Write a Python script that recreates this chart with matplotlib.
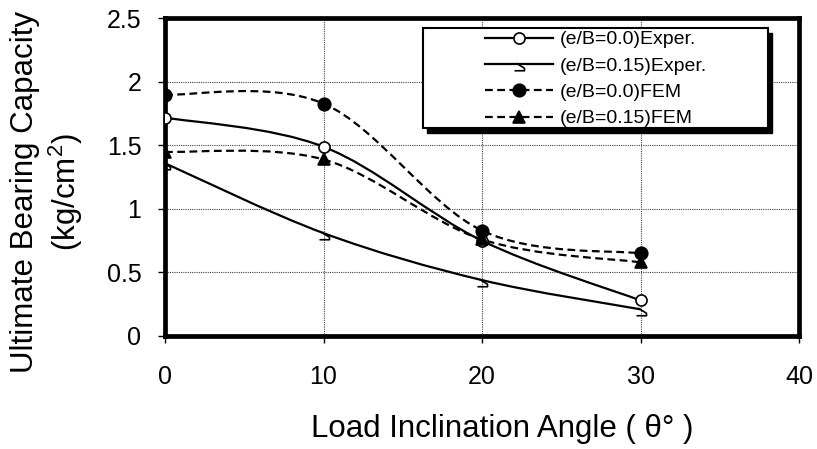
import matplotlib
matplotlib.use("Agg")
import matplotlib.pyplot as plt
import matplotlib.transforms as mtransforms
import numpy as np
from matplotlib.lines import Line2D
from matplotlib.patches import PathPatch, Rectangle
from matplotlib.path import Path

plt.rcParams["font.family"] = ["Liberation Sans", "DejaVu Sans"]
plt.rcParams["mathtext.fontset"] = "custom"
plt.rcParams["mathtext.rm"] = "Liberation Sans"
plt.rcParams["mathtext.default"] = "regular"

angles = [0, 10, 20, 30]
exp_e00 = [1.72, 1.49, 0.75, 0.28]
exp_e15 = [1.36, 0.81, 0.44, 0.21]
fem_e00 = [1.90, 1.83, 0.83, 0.65]
fem_e15 = [1.45, 1.39, 0.76, 0.58]
series_labels = ["(e/B=0.0)Exper.", "(e/B=0.15)Exper.", "(e/B=0.0)FEM", "(e/B=0.15)FEM"]

x_ticks = [0, 10, 20, 30, 40]
y_ticks = [0, 0.5, 1.0, 1.5, 2.0, 2.5]
y_tick_labels = ["0", "0.5", "1", "1.5", "2", "2.5"]

DASHED = (0, (3.5, 2))

# odd little marker used by Excel for the e/B=0.15 experiment series
hook_marker = Path([(-0.8, -1), (0.8, -1), (0.8, -0.6), (-0.5, 0.2)],
                   [Path.MOVETO, Path.LINETO, Path.LINETO, Path.LINETO])


def smooth_path(xs, ys):
    # Catmull-Rom style bezier, like Excel "smoothed line"
    pts = np.column_stack([xs, ys]).astype(float)
    padded = np.vstack([pts[0], pts, pts[-1]])
    verts = [pts[0]]
    codes = [Path.MOVETO]
    for i in range(len(pts) - 1):
        c1 = pts[i] + (padded[i + 2] - padded[i]) / 6
        c2 = pts[i + 1] - (padded[i + 3] - padded[i + 1]) / 6
        verts += [c1, c2, pts[i + 1]]
        codes += [Path.CURVE4] * 3
    return Path(verts, codes)


fig = plt.figure(figsize=(8.17, 4.49), dpi=100)
ax = fig.add_axes([0.202, 0.2517, 0.776, 0.7071])

styles = [
    dict(ys=exp_e00, ls="-", marker="o", mfc="white", ms=8),
    dict(ys=exp_e15, ls="-", marker=hook_marker, mfc="none", ms=9),
    dict(ys=fem_e00, ls=DASHED, marker="o", mfc="black", ms=9),
    dict(ys=fem_e15, ls=DASHED, marker="^", mfc="black", ms=8),
]

handles = []
for st, label in zip(styles, series_labels):
    patch = PathPatch(smooth_path(angles, st["ys"]), fill=False, edgecolor="black",
                      linewidth=1.6, linestyle=st["ls"], zorder=3)
    ax.add_patch(patch)
    ax.plot(angles, st["ys"], linestyle="none", marker=st["marker"], ms=st["ms"],
            mfc=st["mfc"], mec="black", mew=1.2, zorder=4)
    handles.append(Line2D([], [], color="black", linewidth=1.6, linestyle=st["ls"],
                          marker=st["marker"], ms=st["ms"], mfc=st["mfc"],
                          mec="black", mew=1.2))

ax.set_xlim(0, 40)
ax.set_ylim(0, 2.5)
ax.set_xticks(x_ticks)
ax.set_yticks(y_ticks)
ax.set_yticklabels(y_tick_labels)
ax.tick_params(direction="out", length=5, width=1, labelsize=18)
ax.tick_params(axis="y", pad=12)
ax.tick_params(axis="x", pad=16)
ax.grid(True, linestyle=(0, (1, 1)), linewidth=0.8, color="#444444")
ax.set_axisbelow(True)
for spine in ax.spines.values():
    spine.set_linewidth(3.4)

# legend box with hard black shadow
box_xy, box_w, box_h = (0.407, 0.655), 0.544, 0.315
shadow_tr = mtransforms.offset_copy(ax.transAxes, fig=fig, x=4, y=-5, units="dots")
ax.add_patch(Rectangle(box_xy, box_w, box_h, transform=shadow_tr,
                       facecolor="black", edgecolor="black", clip_on=False, zorder=5))
ax.add_patch(Rectangle(box_xy, box_w, box_h, transform=ax.transAxes,
                       facecolor="white", edgecolor="black", linewidth=1.5,
                       clip_on=False, zorder=6))
leg = ax.legend(handles, series_labels, loc="center left", bbox_to_anchor=(0.5047, 0.809),
                frameon=False, fontsize=14, handlelength=3.5, handletextpad=0.36,
                labelspacing=0.45, borderpad=0, borderaxespad=0)
leg.set_zorder(7)

fig.text(0.6144, 0.0267, "Load Inclination Angle ( θ° )", fontsize=22.5,
         ha="center", va="baseline")
fig.text(0.058, 0.572, "Ultimate Bearing Capacity\n(kg/cm$^{2}$)", fontsize=22.5,
         rotation=90, ha="center", va="center", multialignment="center",
         linespacing=1.25)

fig.savefig("out.png", dpi=100)
